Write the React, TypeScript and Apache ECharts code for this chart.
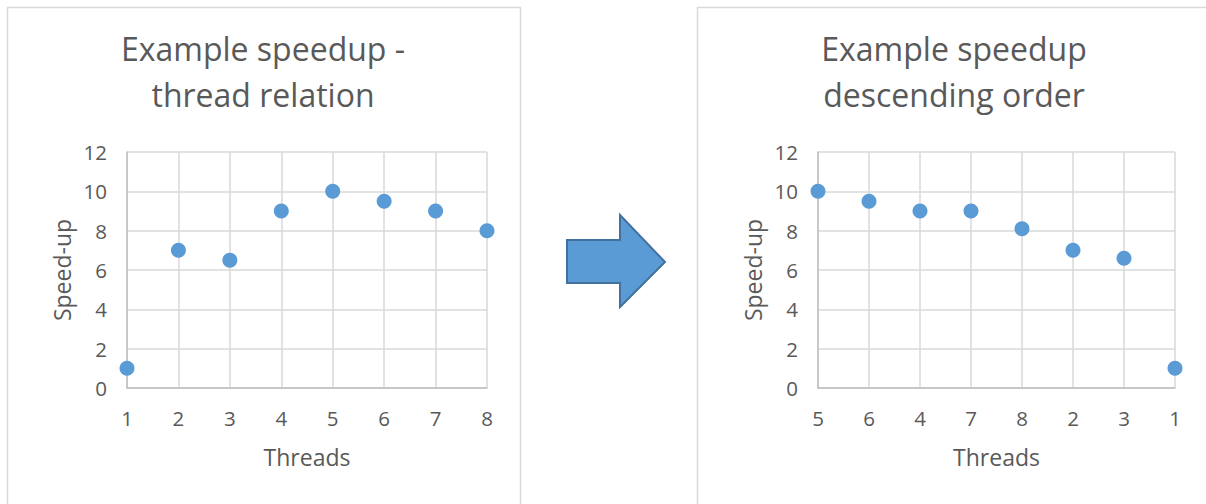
import React, { useEffect, useRef } from "react";
import * as echarts from "echarts";

// Speed-up measured per thread count
const threads = ["1", "2", "3", "4", "5", "6", "7", "8"];
const speedup = [1, 7, 6.5, 9, 10, 9.5, 9, 8];

// Same measurements sorted by descending speed-up
const sortedThreads = ["5", "6", "4", "7", "8", "2", "3", "1"];
const sortedSpeedup = [10, 9.5, 9, 9, 8.1, 7, 6.6, 1];

const leftTitle = "Example speedup -\nthread relation";
const rightTitle = "Example speedup\ndescending order";
const xName = "Threads";
const yName = "Speed-up";

const FONT = "'Open Sans', sans-serif";
const TEXT = "#595959";
const GRID = "#D9D9D9";
const AXIS = "#BFBFBF";
const BLUE = "#5B9BD5";

function makeX(gridIndex: number, data: string[]) {
  return {
    type: "category",
    gridIndex,
    data,
    boundaryGap: false,
    name: xName,
    nameLocation: "middle",
    nameGap: 57,
    nameTextStyle: { color: TEXT, fontSize: 23, fontFamily: FONT },
    axisLine: { lineStyle: { color: AXIS, width: 1.5 } },
    axisTick: { show: false },
    axisLabel: { color: TEXT, fontSize: 20.5, fontFamily: FONT, margin: 19 },
    splitLine: { show: true, lineStyle: { color: GRID, width: 1.5 } },
  };
}

function makeY(gridIndex: number) {
  return {
    type: "value",
    gridIndex,
    min: 0,
    max: 12,
    interval: 2,
    name: yName,
    nameLocation: "middle",
    nameGap: 54,
    nameTextStyle: { color: TEXT, fontSize: 23, fontFamily: FONT },
    axisLine: { show: true, lineStyle: { color: AXIS, width: 1.5 } },
    axisTick: { show: false },
    axisLabel: { color: TEXT, fontSize: 20.5, fontFamily: FONT, margin: 20 },
    splitLine: { show: true, lineStyle: { color: GRID, width: 1.5 } },
  };
}

function makeTitle(text: string, center: number) {
  return {
    text,
    left: center,
    top: 25,
    padding: 0,
    textAlign: "center",
    textStyle: { color: TEXT, fontSize: 32, fontWeight: "normal", fontFamily: FONT, lineHeight: 46 },
  };
}

export default function App() {
  const ref = useRef<HTMLDivElement>(null);

  useEffect(() => {
    document.body.style.margin = "0";
    if (!ref.current) return;
    const chart = echarts.init(ref.current, undefined, { renderer: "svg" });
    chart.setOption({
      animation: false,
      backgroundColor: "#ffffff",
      title: [makeTitle(leftTitle, 263), makeTitle(rightTitle, 954)],
      grid: [
        { left: 127, top: 152, width: 360, height: 236 },
        { left: 818, top: 152, width: 357, height: 236 },
      ],
      xAxis: [makeX(0, threads), makeX(1, sortedThreads)],
      yAxis: [makeY(0), makeY(1)],
      series: [
        {
          type: "scatter",
          xAxisIndex: 0,
          yAxisIndex: 0,
          data: speedup,
          symbolSize: 15,
          itemStyle: { color: BLUE, opacity: 1 },
        },
        {
          type: "scatter",
          xAxisIndex: 1,
          yAxisIndex: 1,
          data: sortedSpeedup,
          symbolSize: 15,
          itemStyle: { color: BLUE, opacity: 1 },
        },
      ],
      graphic: [
        {
          type: "rect",
          z: -10,
          shape: { x: 7.5, y: 7.5, width: 513, height: 520 },
          style: { fill: "#ffffff", stroke: GRID, lineWidth: 1.5 },
        },
        {
          type: "rect",
          z: -10,
          shape: { x: 697.5, y: 7.5, width: 520, height: 520 },
          style: { fill: "#ffffff", stroke: GRID, lineWidth: 1.5 },
        },
        {
          type: "polygon",
          shape: {
            points: [
              [567, 240],
              [620, 240],
              [620, 215],
              [665, 262],
              [620, 307],
              [620, 283],
              [567, 283],
            ],
          },
          style: { fill: BLUE, stroke: "#41719C", lineWidth: 2 },
        },
      ],
    });
    return () => chart.dispose();
  }, []);

  return <div ref={ref} style={{ width: 1206, height: 504 }} />;
}
